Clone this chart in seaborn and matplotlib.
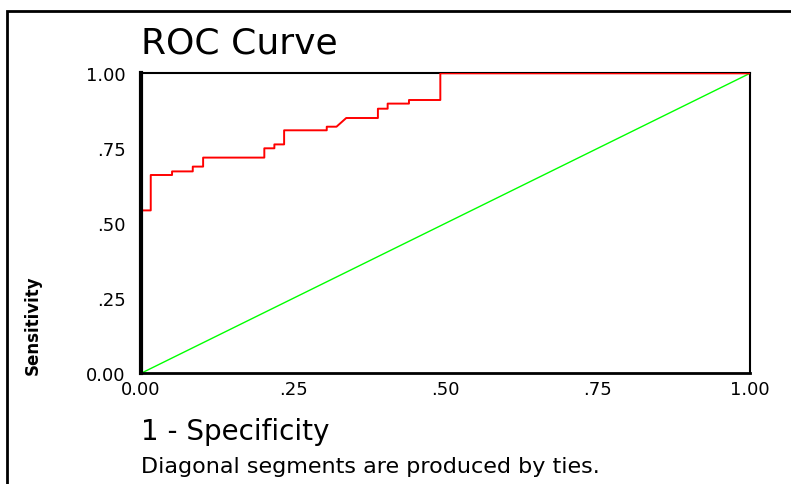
import numpy as np
import pandas as pd
import matplotlib
matplotlib.use('Agg')
import matplotlib.pyplot as plt
import seaborn as sns
from matplotlib.patches import Rectangle

# ROC curve corner points (1 - specificity, sensitivity)
fpr = [0.0, 0.0, 0.016, 0.016, 0.051, 0.051, 0.085, 0.085, 0.102, 0.102,
       0.2025, 0.2025, 0.219, 0.219, 0.235, 0.235, 0.305, 0.305, 0.321, 0.337,
       0.389, 0.389, 0.405, 0.405, 0.44, 0.44, 0.4915, 0.4915, 1.0]
tpr = [0.0, 0.543, 0.543, 0.661, 0.661, 0.673, 0.673, 0.689, 0.689, 0.719,
       0.719, 0.75, 0.75, 0.763, 0.763, 0.81, 0.81, 0.822, 0.822, 0.851,
       0.851, 0.882, 0.882, 0.899, 0.899, 0.911, 0.911, 1.0, 1.0]
ref_x = [0.0, 1.0]
ref_y = [0.0, 1.0]
tick_vals = [0.0, 0.25, 0.5, 0.75, 1.0]
tick_labels = ['0.00', '.25', '.50', '.75', '1.00']

sns.set_style('white')
plt.rcParams['font.family'] = ['DejaVu Sans']
plt.rcParams['text.color'] = 'black'

W, H = 791, 485
fig = plt.figure(figsize=(W / 100, H / 100), dpi=100)
ax = fig.add_axes([141 / W, 1 - 374.3 / H, (750 - 141) / W, 300 / H])

roc = pd.DataFrame({'fpr': fpr, 'tpr': tpr})
sns.lineplot(data=roc, x='fpr', y='tpr', sort=False, estimator=None,
             color='#ff0000', linewidth=1.4, ax=ax, zorder=3)
sns.lineplot(x=ref_x, y=ref_y, sort=False, estimator=None,
             color='#00ff00', linewidth=1.0, ax=ax, zorder=2)

ax.set_xlim(0, 1)
ax.set_ylim(0, 1)
ax.set_xticks(tick_vals)
ax.set_xticklabels(tick_labels)
ax.set_yticks(tick_vals)
ax.set_yticklabels(tick_labels)
ax.tick_params(axis='both', labelsize=13, colors='black', direction='out')
ax.tick_params(axis='y', length=7, width=3, pad=4)
ax.tick_params(axis='x', length=3, width=3, pad=2)
ax.set_xlabel('')
ax.set_ylabel('')

for side in ['left', 'bottom']:
    ax.spines[side].set_linewidth(3 if side == 'left' else 2)
    ax.spines[side].set_color('black')
    ax.spines[side].set_zorder(5)
for side in ['top', 'right']:
    ax.spines[side].set_linewidth(1.5)
    ax.spines[side].set_color('black')

# outer chart frame (cut off at right and bottom)
fig.patches.append(Rectangle((7 / W, -0.1), 1.2, 1 - 12 / H + 0.1,
                             transform=fig.transFigure, fill=False,
                             edgecolor='black', linewidth=2))

fig.text(141 / W, 1 - 44 / H, 'ROC Curve', fontsize=26, ha='left', va='center')
fig.text(33 / W, 1 - 375 / H, 'Sensitivity', fontsize=12, fontweight='bold',
         rotation=90, ha='center', va='bottom')
fig.text(141 / W, 1 - 432 / H, '1 - Specificity', fontsize=20, ha='left', va='center')
fig.text(141 / W, 1 - 467 / H, 'Diagonal segments are produced by ties.',
         fontsize=16, ha='left', va='center')

fig.savefig('out.png', dpi=100)
